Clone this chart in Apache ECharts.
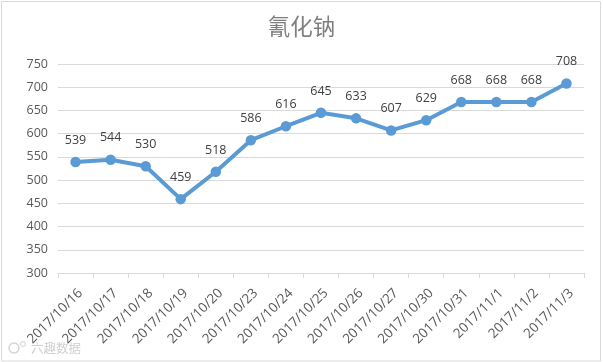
<!DOCTYPE html>
<html><head><meta charset="utf-8">
<style>html,body{margin:0;padding:0;background:#fff}#c{width:603px;height:362px}</style>
<script src="https://cdn.jsdelivr.net/npm/echarts@6/dist/echarts.min.js"></script>
</head><body><div id="c"></div>
<script>
var titleText = '氰化钠';
var categories = ['2017/10/16','2017/10/17','2017/10/18','2017/10/19','2017/10/20','2017/10/23','2017/10/24','2017/10/25','2017/10/26','2017/10/27','2017/10/30','2017/10/31','2017/11/1','2017/11/2','2017/11/3'];
var values = [539,544,530,459,518,586,616,645,633,607,629,668,668,668,708];
var chart = echarts.init(document.getElementById('c'), null, {renderer:'canvas'});
chart.setOption({
  animation:false,
  backgroundColor:'#fff',
  graphic:[
    {type:'rect',shape:{x:1.5,y:1.5,width:599,height:359.5},style:{fill:'none',stroke:'#d9d9d9',lineWidth:1},silent:true,z:0},
    {type:'circle',shape:{cx:14,cy:348,r:5},style:{fill:'none',stroke:'#d4d4d4',lineWidth:1.5},silent:true},
    {type:'circle',shape:{cx:23,cy:344,r:2.5},style:{fill:'none',stroke:'#d4d4d4',lineWidth:1},silent:true},
    {type:'text',left:31,top:342,style:{text:'六趣数据',fill:'#d0d0d0',font:'12.5px "Noto Sans CJK SC"'},silent:true}
  ],
  title:{text:titleText,left:'center',top:15,itemGap:0,padding:[0,0,0,0],
    textStyle:{color:'#7f7f7f',fontSize:22.5,fontWeight:'normal',fontFamily:'"Noto Sans CJK SC"'}},
  grid:{left:58,right:19,top:64,bottom:89,containLabel:false},
  xAxis:{type:'category',data:categories,boundaryGap:true,
    axisLine:{lineStyle:{color:'#d9d9d9',width:1}},
    axisTick:{show:true,alignWithLabel:false,length:5,lineStyle:{color:'#d9d9d9'}},
    axisLabel:{interval:0,rotate:45,color:'#595959',fontSize:13.5,margin:13,verticalAlign:'top',fontFamily:'"Open Sans","DejaVu Sans",sans-serif'},
    splitLine:{show:false}},
  yAxis:{type:'value',min:300,max:750,interval:50,
    axisLine:{show:false},axisTick:{show:false},
    axisLabel:{color:'#595959',fontSize:12.5,margin:10,fontFamily:'"Open Sans","DejaVu Sans",sans-serif'},
    splitLine:{lineStyle:{color:'#d9d9d9',width:1}}},
  series:[{type:'line',data:values,smooth:false,symbol:'circle',symbolSize:10.5,
    lineStyle:{color:'#5b9bd5',width:4},itemStyle:{color:'#5b9bd5'},
    label:{show:true,position:'top',distance:10,color:'#404040',fontSize:12.5,fontFamily:'"Open Sans","DejaVu Sans",sans-serif'}}]
});
</script></body></html>
